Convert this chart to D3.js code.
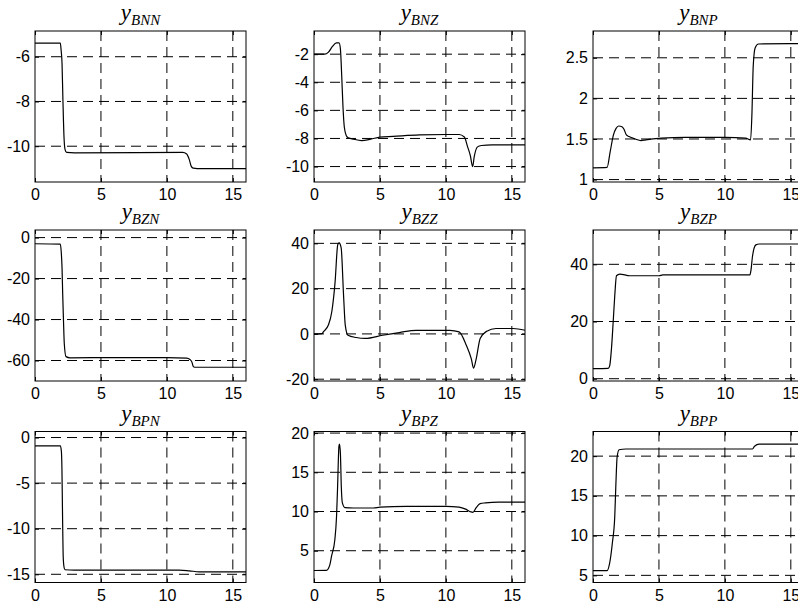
<!DOCTYPE html>
<html lang="en">
<head>
  <meta charset="UTF-8" />
  <title>Step responses</title>
  <script src="https://d3js.org/d3.v7.min.js"></script>
  <style>
    html, body {
      margin: 0;
      padding: 0;
      background-color: #fff;
      overflow: hidden;
    }
    svg {
      display: block;
    }
    .tick text {
      font-family: 'Liberation Sans', Arial, sans-serif;
      font-size: 16px;
      fill: #000;
    }
    .tick line {
      stroke: #000;
    }
    .grid line {
      stroke: #000;
      stroke-width: 1;
      stroke-dasharray: 10,6;
    }
    .frame {
      fill: none;
      stroke: #000;
      stroke-width: 1;
    }
    .curve {
      fill: none;
      stroke: #000;
      stroke-width: 1.2;
    }
    .title {
      font-family: 'Liberation Serif', 'Times New Roman', serif;
      font-style: italic;
      fill: #000;
    }
  </style>
</head>
<body>
  <svg width="798" height="607"></svg>

  <script>
    // x axis is shared by all nine panels
    const xTicks = [0, 5, 10, 15];
    const xDomain = [0, 16];

    // y_BNN
    const tBNN = [0, 1.92, 1.98, 2.05, 2.12, 2.2, 2.28, 2.4, 3, 11.2, 11.5, 11.7, 11.85, 12.0, 12.3, 16];
    const yBNN = [-5.39, -5.39, -5.7, -6.3, -8.0, -9.6, -10.15, -10.28, -10.3, -10.28, -10.35, -10.6, -10.9, -10.98, -11.0, -11.0];
    const ticksBNN = [-10, -8, -6];
    const domBNN = [-11.6, -4.85];

    // y_BNZ
    const tBNZ = [0, 0.8, 1.1, 1.4, 1.7, 1.9, 2.0, 2.1, 2.2, 2.3, 2.45, 2.6, 3.0, 3.6, 4.3, 5, 6, 8, 10, 11, 11.4, 11.65, 11.85, 12.03, 12.15, 12.4, 12.7, 13.5, 16];
    const yBNZ = [-2, -2, -1.85, -1.45, -1.2, -1.2, -1.6, -3.5, -5.8, -7.2, -7.8, -7.95, -8.05, -8.15, -8.05, -7.9, -7.85, -7.75, -7.72, -7.72, -7.9, -8.6, -9.2, -10.0, -9.3, -8.6, -8.5, -8.45, -8.45];
    const ticksBNZ = [-10, -8, -6, -4, -2];
    const domBNZ = [-11.1, -0.35];

    // y_BNP
    const tBNP = [0, 1.07, 1.3, 1.55, 1.75, 1.95, 2.2, 2.35, 2.53, 2.73, 3.2, 3.63, 4.0, 5.2, 7, 10, 11.57, 11.95, 12.05, 12.15, 12.3, 12.55, 16];
    const yBNP = [1.145, 1.15, 1.34, 1.55, 1.63, 1.66, 1.65, 1.62, 1.55, 1.53, 1.5, 1.48, 1.49, 1.51, 1.52, 1.52, 1.51, 1.49, 1.8, 2.4, 2.625, 2.67, 2.675];
    const ticksBNP = [1, 1.5, 2, 2.5];
    const domBNP = [0.97, 2.83];

    // y_BZN
    const tBZN = [0, 1.92, 2.0, 2.05, 2.1, 2.16, 2.22, 2.35, 2.65, 5, 10, 11.5, 11.75, 11.9, 12.0, 12.1, 16];
    const yBZN = [-3, -3.2, -8, -14.7, -27.6, -40.5, -51.7, -58.1, -58.7, -58.6, -58.6, -58.8, -59.5, -60.8, -62.9, -63.3, -63.3];
    const ticksBZN = [-60, -40, -20, 0];
    const domBZN = [-70, 3.7];

    // y_BZZ
    const tBZZ = [0, 0.6, 0.71, 1.09, 1.35, 1.6, 1.8, 1.9, 2.06, 2.24, 2.37, 2.58, 3.2, 3.9, 5.2, 6.47, 7.74, 10.3, 11.0, 11.55, 11.93, 12.1, 12.3, 12.6, 13.1, 13.8, 15.1, 16];
    const yBZZ = [0, 0.1, 0.9, 3.9, 9.8, 23, 39.4, 40.2, 38, 17.2, 3.9, -0.6, -1.6, -2.0, -0.6, 0.6, 1.6, 1.6, 0.9, -5, -11, -15.1, -11, -2, 1.2, 2.4, 2.4, 1.6];
    const ticksBZZ = [-20, 0, 20, 40];
    const domBZZ = [-20.8, 45.9];

    // y_BZP
    const tBZP = [0, 1.15, 1.27, 1.4, 1.53, 1.65, 1.78, 2.03, 2.8, 5, 5.3, 11.9, 11.98, 12.1, 12.35, 12.6, 16];
    const yBZP = [3.5, 3.6, 4.6, 10.5, 19.8, 29, 36, 36.6, 36.0, 36.0, 36.3, 36.3, 38, 43, 46.8, 47.1, 47.1];
    const ticksBZP = [0, 20, 40];
    const domBZP = [-0.8, 52];

    // y_BPN
    const tBPN = [0, 1.92, 2.0, 2.04, 2.09, 2.14, 2.2, 2.27, 3, 10.93, 11.7, 12.45, 16];
    const yBPN = [-0.91, -0.91, -1.5, -3.2, -8.7, -13.1, -14.2, -14.5, -14.54, -14.54, -14.62, -14.73, -14.73];
    const ticksBPN = [-15, -10, -5, 0];
    const domBPN = [-15.9, 0.66];

    // y_BPZ
    const tBPZ = [0, 0.94, 1.2, 1.33, 1.58, 1.71, 1.79, 1.89, 1.93, 2.0, 2.07, 2.15, 2.35, 3, 4.5, 5, 7, 10, 11, 11.5, 11.9, 12.05, 12.3, 12.6, 13, 14, 16];
    const yBPZ = [2.48, 2.5, 3.2, 4.3, 6.4, 9.4, 13.2, 18.3, 18.6, 17.5, 13.2, 11.1, 10.5, 10.45, 10.45, 10.55, 10.65, 10.65, 10.55, 10.3, 9.95, 9.9, 10.5, 11.0, 11.1, 11.2, 11.2];
    const ticksBPZ = [5, 10, 15, 20];
    const domBPZ = [0.95, 20.2];

    // y_BPP
    const tBPP = [0, 1.07, 1.27, 1.47, 1.65, 1.73, 1.83, 1.98, 2.5, 12.1, 12.25, 12.6, 16];
    const yBPP = [5.6, 5.6, 6.6, 9.1, 12.4, 16.2, 19.9, 20.8, 20.9, 20.9, 21.25, 21.5, 21.5];
    const ticksBPP = [5, 10, 15, 20];
    const domBPP = [4.1, 23.1];

    const panels = [
      { sub: "BNN", t: tBNN, y: yBNN, ticks: ticksBNN, dom: domBNN },
      { sub: "BNZ", t: tBNZ, y: yBNZ, ticks: ticksBNZ, dom: domBNZ },
      { sub: "BNP", t: tBNP, y: yBNP, ticks: ticksBNP, dom: domBNP },
      { sub: "BZN", t: tBZN, y: yBZN, ticks: ticksBZN, dom: domBZN },
      { sub: "BZZ", t: tBZZ, y: yBZZ, ticks: ticksBZZ, dom: domBZZ },
      { sub: "BZP", t: tBZP, y: yBZP, ticks: ticksBZP, dom: domBZP },
      { sub: "BPN", t: tBPN, y: yBPN, ticks: ticksBPN, dom: domBPN },
      { sub: "BPZ", t: tBPZ, y: yBPZ, ticks: ticksBPZ, dom: domBPZ },
      { sub: "BPP", t: tBPP, y: yBPP, ticks: ticksBPP, dom: domBPP }
    ];

    const svg = d3.select("svg");
    const colLeft = [35, 314, 593];
    const rowTop = [31, 230, 431.5];
    const plotW = 211;
    const plotH = 151;

    panels.forEach((p, i) => {
      const left = colLeft[i % 3];
      const top = rowTop[Math.floor(i / 3)];

      const x = d3.scaleLinear().domain(xDomain).range([0, plotW]);
      const y = d3.scaleLinear().domain(p.dom).range([plotH, 0]);

      const g = svg.append("g").attr("transform", `translate(${left},${top})`);

      // dashed grid
      const grid = g.append("g").attr("class", "grid");
      grid.selectAll(".gx")
        .data(xTicks.filter(d => d > xDomain[0]))
        .enter().append("line")
        .attr("x1", d => x(d)).attr("x2", d => x(d))
        .attr("y1", 0).attr("y2", plotH);
      grid.selectAll(".gy")
        .data(p.ticks)
        .enter().append("line")
        .attr("x1", 0).attr("x2", plotW)
        .attr("y1", d => y(d)).attr("y2", d => y(d));

      // axes with inward ticks
      const fmt = d => String(d);
      g.append("g")
        .attr("transform", `translate(0,${plotH})`)
        .call(d3.axisBottom(x).tickValues(xTicks).tickFormat(fmt)
          .tickSizeInner(-4).tickSizeOuter(0).tickPadding(7))
        .call(a => a.select(".domain").remove());
      g.append("g")
        .call(d3.axisLeft(y).tickValues(p.ticks).tickFormat(fmt)
          .tickSizeInner(-4).tickSizeOuter(0).tickPadding(5))
        .call(a => a.select(".domain").remove());
      g.append("g")
        .call(d3.axisTop(x).tickValues(xTicks).tickFormat("")
          .tickSizeInner(-4).tickSizeOuter(0))
        .call(a => a.select(".domain").remove());
      g.append("g")
        .attr("transform", `translate(${plotW},0)`)
        .call(d3.axisRight(y).tickValues(p.ticks).tickFormat("")
          .tickSizeInner(-4).tickSizeOuter(0))
        .call(a => a.select(".domain").remove());

      g.append("rect")
        .attr("class", "frame")
        .attr("width", plotW)
        .attr("height", plotH);

      const line = d3.line()
        .x(d => x(d[0]))
        .y(d => y(d[1]))
        .curve(d3.curveMonotoneX);

      g.append("path")
        .datum(d3.zip(p.t, p.y))
        .attr("class", "curve")
        .attr("d", line);

      const title = g.append("text")
        .attr("class", "title")
        .attr("x", plotW / 2)
        .attr("y", -11)
        .attr("text-anchor", "middle");
      title.append("tspan").style("font-size", "23px").text("y");
      title.append("tspan").style("font-size", "15px").attr("dy", 5).text(p.sub);
    });
  </script>
</body>
</html>
